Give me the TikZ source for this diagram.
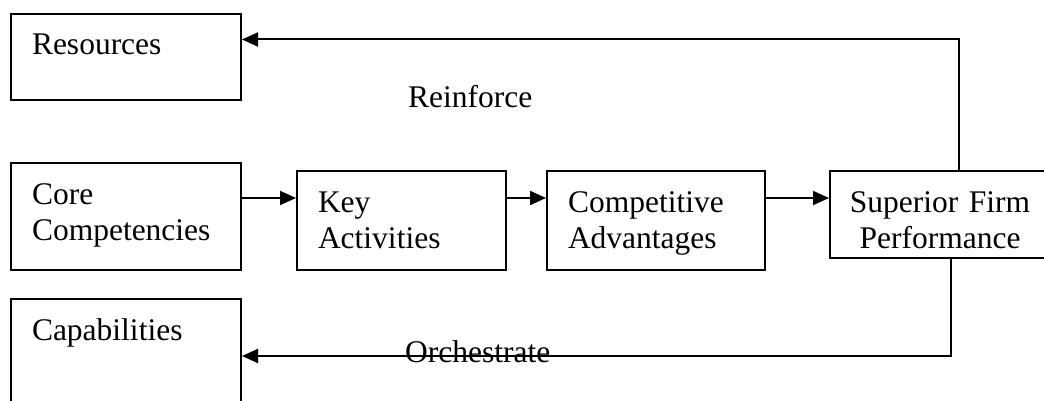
\documentclass[tikz,border=0pt]{standalone}
\usepackage{fontspec}
\setmainfont{Liberation Serif}
\usetikzlibrary{arrows.meta}
\tikzset{
  box/.style={draw, line width=2pt, rectangle, anchor=north west, inner ysep=0pt,
    inner xsep=21pt, align=left, text height=41pt,
    font=\fontsize{31.5}{36}\selectfont},
  lbl/.style={anchor=base west, inner sep=0pt, font=\fontsize{31.5}{36}\selectfont},
  arr/.style={line width=2pt, -{Triangle[length=16pt,width=14pt]}},
  lnk/.style={line width=2pt}
}
\begin{document}
\begin{tikzpicture}
\useasboundingbox (0pt,0pt) rectangle (1044pt,-401pt);
\clip (0pt,0pt) rectangle (1044pt,-401pt);
\node[box, text width=188pt, text depth=45pt] (res) at (10pt,-13pt) {Resources};
\node[box, text width=188pt, text depth=66pt] (cc) at (10pt,-162pt) {Core\\Competencies};
\node[box, text width=167pt, text depth=58pt] (ka) at (296pt,-170pt) {Key\\Activities};
\node[box, text width=176pt, text depth=58pt] (ca) at (546pt,-170pt) {Competitive\\Advantages};
\node[box, align=center, inner xsep=10pt, text width=200pt, text depth=46pt] (sfp) at (829pt,-170pt) {Superior Firm\\Performance};
\node[box, text width=188pt, text depth=69pt] (cap) at (10pt,-298pt) {Capabilities};
\node[lbl] (reinf) at (408pt,-108pt) {Reinforce};
\node[lbl] (orch) at (405pt,-362pt) {Orchestrate};
\draw[arr] ([yshift=-36pt]cc.north east) -- ([yshift=-28pt]ka.north west);
\draw[arr] ([yshift=-28pt]ka.north east) -- ([yshift=-28pt]ca.north west);
\draw[arr] ([yshift=-28pt]ca.north east) -- ([yshift=-28pt]sfp.north west);
\draw[arr] ([xshift=130pt]sfp.north west) |- ([yshift=-26.5pt]res.north east);
\draw[arr] ([xshift=122pt]sfp.south west) |- ([yshift=-58pt]cap.north east);
\end{tikzpicture}
\end{document}
